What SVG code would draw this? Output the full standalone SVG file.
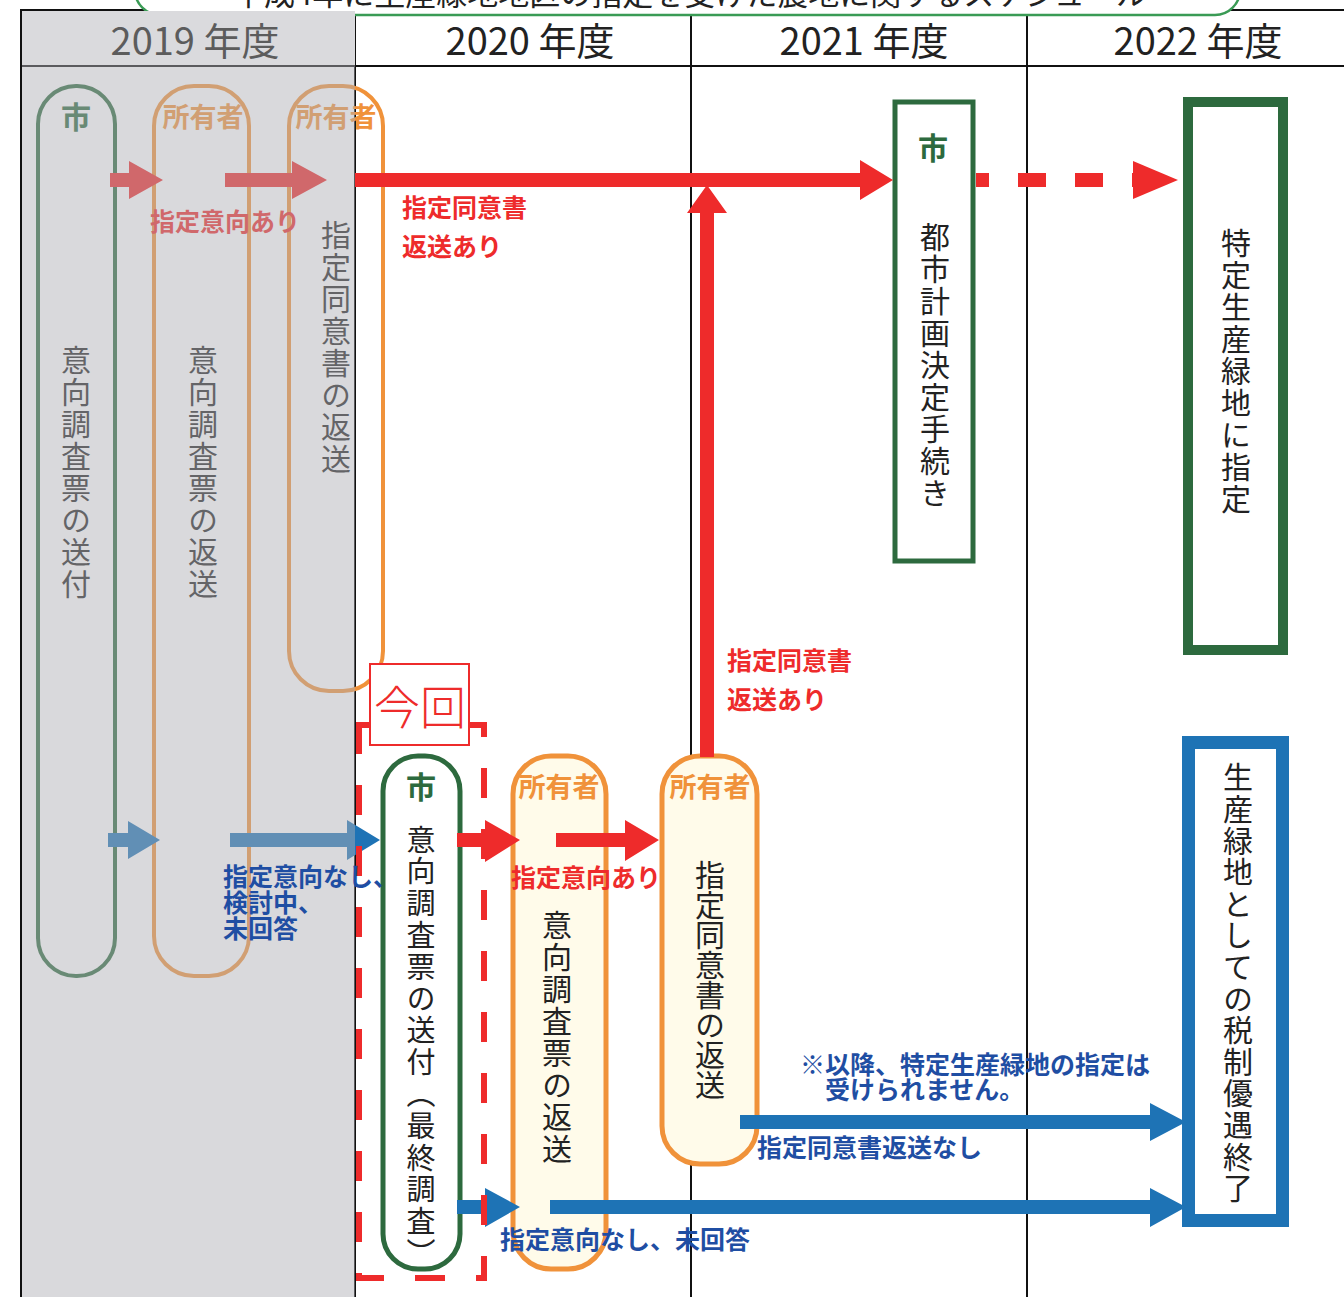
<svg xmlns="http://www.w3.org/2000/svg" width="1344" height="1297" viewBox="0 0 1344 1297">
<style>
.ja{font-family:"Noto Sans CJK JP","Noto Sans CJK SC",sans-serif}
.v{font-family:"Noto Sans CJK JP","Noto Sans CJK SC",sans-serif;font-size:30px;letter-spacing:2px;fill:#222;writing-mode:vertical-rl}
.b{font-family:"Noto Sans CJK JP","Noto Sans CJK SC",sans-serif;font-weight:700;font-size:25px}
.hd{font-family:"Noto Sans CJK JP","Noto Sans CJK SC",sans-serif;font-size:38px;fill:#222;text-anchor:middle}
.lbl{font-family:"Noto Sans CJK JP","Noto Sans CJK SC",sans-serif;font-weight:700;text-anchor:middle}
.red{fill:#ee2b2b}
.blue{fill:#1e73b5}
.bt{fill:#1f4ea3}
.grid{stroke:#111;stroke-width:2;fill:none}
</style>
<rect width="1344" height="1297" fill="#fff"/>
<g id="table">
<line class="grid" x1="20" y1="10" x2="1344" y2="10"/>
<line class="grid" x1="20" y1="66" x2="1344" y2="66" stroke-width="3"/>
<line class="grid" x1="21" y1="10" x2="21" y2="1297"/>
<line class="grid" x1="355" y1="10" x2="355" y2="1297"/>
<line class="grid" x1="691" y1="10" x2="691" y2="1297"/>
<line class="grid" x1="1027" y1="10" x2="1027" y2="1297"/>
</g>
<g id="title">
<rect x="135" y="-40" width="1105" height="55" rx="25" fill="#fff" stroke="#3a9b55" stroke-width="2.5"/>
<text class="ja" x="690" y="5" font-size="31" text-anchor="middle" fill="#222">平成4年に生産緑地地区の指定を受けた農地に関するスケジュール</text>
</g>
<g id="headers">
<text class="hd" x="530" y="55">2020 年度</text>
<text class="hd" x="864" y="55">2021 年度</text>
<text class="hd" x="1198" y="55">2022 年度</text>
</g>
<g id="n2019-city">
<rect x="38" y="86" width="77" height="890" rx="38" fill="none" stroke="#2d6a3e" stroke-width="4"/>
<text class="lbl" x="76" y="128" font-size="30" fill="#2d6a3e">市</text>
<text class="v" x="76" y="345">意向調査票の送付</text>
</g>
<g id="n2019-owner1">
<rect x="154" y="86" width="95" height="890" rx="40" fill="none" stroke="#f0923a" stroke-width="4"/>
<text class="lbl" x="203" y="127" font-size="27" fill="#f0923a">所有者</text>
<text class="v" x="203" y="345">意向調査票の返送</text>
</g>
<g id="n2019-owner2">
<rect x="289" y="86" width="94" height="605" rx="40" fill="none" stroke="#f0923a" stroke-width="4"/>
<text class="lbl" x="336" y="127" font-size="27" fill="#f0923a">所有者</text>
<text class="v" x="336" y="220">指定同意書の返送</text>
</g>
<g id="connectors-2019">
<polygon class="red" points="110,173 129,173 129,161 163,180 129,199 129,187 110,187"/>
<polygon class="red" points="225,173 292,173 292,161 327,180 292,199 292,187 225,187"/>
<text class="b red" x="150" y="231">指定意向あり</text>
<polygon class="blue" points="108,833 128,833 128,821 160,840 128,859 128,847 108,847"/>
<polygon class="blue" points="230,833 347,833 347,820 380,840 347,860 347,847 230,847"/>
</g>
<rect id="past-overlay" x="22" y="11" width="333" height="1286" fill="#aeaeb4" opacity="0.47"/>
<rect x="22" y="11" width="333" height="54" fill="#dadadd"/>
<text id="h2019" class="hd" x="195" y="55" style="fill:#5c5c5c">2019 年度</text>
<g id="n2021-city">
<rect x="895" y="102" width="78" height="459" fill="#fff" stroke="#2d6a3e" stroke-width="5"/>
<text class="lbl" x="933" y="159" font-size="30" fill="#2d6a3e">市</text>
<text class="v" x="935" y="222">都市計画決定手続き</text>
</g>
<g id="n2022-green">
<rect x="1188" y="102" width="95" height="548" fill="#fff" stroke="#2d6a3e" stroke-width="10"/>
<text class="v" x="1236" y="228">特定生産緑地に指定</text>
</g>
<g id="n2022-blue">
<rect x="1188.5" y="742.5" width="94" height="478" fill="#fff" stroke="#1e73b5" stroke-width="13"/>
<text class="v" x="1238" y="762" style="letter-spacing:1.6px">生産緑地としての税制優遇終了</text>
</g>
<g id="n2020-city">
<rect x="383" y="756" width="77" height="513" rx="35" fill="#fff" stroke="#2d6a3e" stroke-width="5"/>
<text class="lbl" x="421" y="798" font-size="30" fill="#2d6a3e">市</text>
<text class="v" x="421" y="825" style="font-size:29px;letter-spacing:2.8px">意向調査票の送付（最終調査）</text>
</g>
<g id="n2020-owner1">
<rect x="513" y="756" width="93" height="513" rx="38" fill="#fffbea" stroke="#f0923a" stroke-width="5"/>
<text class="lbl" x="559" y="797" font-size="27" fill="#f0923a">所有者</text>
<text class="v" x="557" y="910">意向調査票の返送</text>
</g>
<g id="n2020-owner2">
<rect x="662" y="756" width="95" height="408" rx="38" fill="#fffbea" stroke="#f0923a" stroke-width="5"/>
<text class="lbl" x="710" y="797" font-size="27" fill="#f0923a">所有者</text>
<text class="v" x="710" y="860" style="letter-spacing:0">指定同意書の返送</text>
</g>
<g id="connectors">
<polygon class="red" points="355,173 860,173 860,160 893,180 860,200 860,187 355,187"/>
<polygon class="red" points="700,757 700,213 687,213 707,185 727,213 714,213 714,757"/>
<line x1="976" y1="180" x2="1135" y2="180" stroke="#ee2b2b" stroke-width="14" stroke-dasharray="13 29 28 29 28 29 40"/>
<polygon class="red" points="1133,161 1178,180 1133,199"/>
<polygon class="red" points="457,833 485,833 485,820 520,840 485,862 485,847 457,847"/>
<polygon class="red" points="556,833 625,833 625,820 659,840 625,861 625,847 556,847"/>
<polygon class="blue" points="740,1115 1150,1115 1150,1103 1186,1122 1150,1141 1150,1129 740,1129"/>
<polygon class="blue" points="457,1200 485,1200 485,1188 520,1207 485,1227 485,1214 457,1214"/>
<polygon class="blue" points="550,1200 1150,1200 1150,1188 1186,1207 1150,1227 1150,1214 550,1214"/>
</g>
<g id="current">
<rect x="359" y="725" width="125" height="553" fill="none" stroke="#ee2b2b" stroke-width="6" stroke-dasharray="30 31" stroke-dashoffset="15"/>
<rect x="370" y="664" width="99" height="81" fill="#fff" stroke="#ee2b2b" stroke-width="2"/>
<text class="ja" x="420" y="724" font-size="46" text-anchor="middle" fill="#ee2b2b" font-weight="300">今回</text>
</g>
<g id="labels">
<text class="b red" x="402" y="217">指定同意書</text>
<text class="b red" x="402" y="256">返送あり</text>
<text class="b red" x="727" y="670">指定同意書</text>
<text class="b red" x="727" y="709">返送あり</text>
<text class="b red" x="511" y="887">指定意向あり</text>
<text class="b bt" x="223" y="886" font-size="24">指定意向なし、</text>
<text class="b bt" x="223" y="912" font-size="24">検討中、</text>
<text class="b bt" x="223" y="938" font-size="24">未回答</text>
<text class="b bt" x="800" y="1074" font-size="26">※以降、特定生産緑地の指定は</text>
<text class="b bt" x="825" y="1099">受けられません。</text>
<text class="b bt" x="757" y="1157" font-size="25.5">指定同意書返送なし</text>
<text class="b bt" x="500" y="1249" font-size="25.6">指定意向なし、未回答</text>
</g>
</svg>
